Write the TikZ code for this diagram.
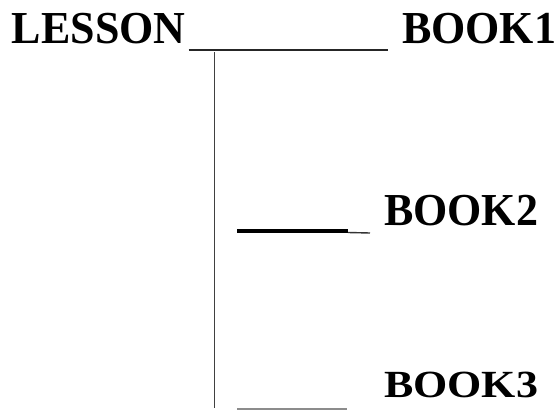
\documentclass[tikz,border=0pt]{standalone}
\usepackage{fontspec}
\setmainfont{Liberation Serif}
\usepackage{tikz}
\usetikzlibrary{positioning}
\tikzstyle{word} = [anchor=base west, inner sep=0pt, outer sep=0pt,
    font=\bfseries\fontsize{44}{44}\selectfont, yscale=1.04]
\tikzstyle{rule} = [draw, black!85, line width=1.8pt]
\tikzstyle{heavy rule} = [draw, black, line width=3.8pt]
\tikzstyle{thin rule} = [draw, black!80, line width=1.4pt]
\tikzstyle{stem} = [draw, black!75, line width=1.8pt]
\tikzstyle{faint rule} = [draw, black!45, line width=1.1pt]

\begin{document}
\begin{tikzpicture}[x=1pt, y=-1pt]
  \useasboundingbox (0,0) rectangle (555,410);
  % Place nodes
  \node [word] (lesson) at (12,43) {LESSON};
  \node [word] (book1) at (402,43) {BOOK1};
  \node [word] (book2) at (384,225) {BOOK2};
  \node [word, yscale=0.84] (book3) at (384,397) {BOOK3};

  \coordinate (stem top) at (214.5,52);
  \coordinate (stem bot) at (214.5,408);
  \coordinate (b2 start) at (237,231);
  \coordinate (b2 mid) at (348,231);
  \coordinate (b3 start) at (237,409);

  % Lines
  \path [rule] ([xshift=3pt,yshift=-7pt]lesson.base east)
    -- ([xshift=-14pt,yshift=-7pt]book1.base west);
  \path [stem] (stem top) -- (stem bot);

  \path [heavy rule] (b2 start) -- (b2 mid);
  \path [thin rule] ([yshift=-1.5pt]b2 mid)
    -- ([xshift=-14pt,yshift=-8pt]book2.base west);

  \path [faint rule] (b3 start) -- ([xshift=-37pt,yshift=-12pt]book3.base west);

\end{tikzpicture}
\end{document}
